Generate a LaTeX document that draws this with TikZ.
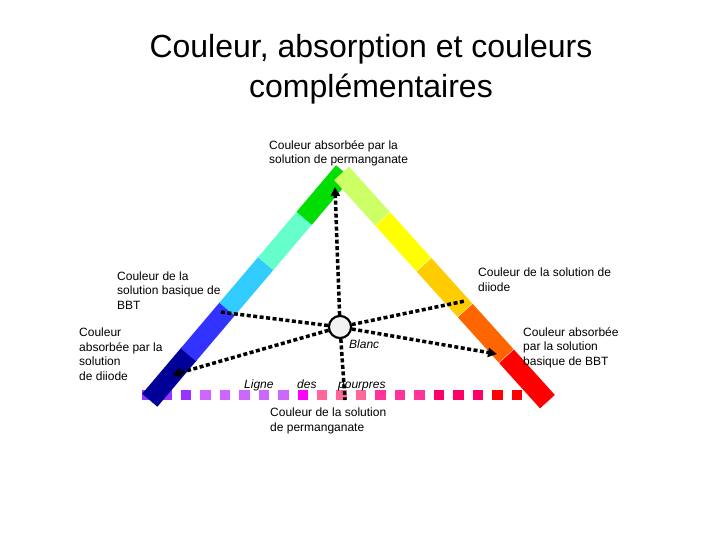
\documentclass[tikz,border=0pt]{standalone}
\usepackage{fontspec}
\setmainfont{Liberation Sans}
\usetikzlibrary{arrows.meta}
\definecolor{cNavy}{HTML}{000099}
\definecolor{cBlue}{HTML}{3333FF}
\definecolor{cSky}{HTML}{33CCFF}
\definecolor{cAqua}{HTML}{66FFCC}
\definecolor{cGreen}{HTML}{00DD00}
\definecolor{cLime}{HTML}{CCFF66}
\definecolor{cYellow}{HTML}{FFFF00}
\definecolor{cGold}{HTML}{FFCC00}
\definecolor{cOrange}{HTML}{FF6600}
\definecolor{cRed}{HTML}{FF0000}
\definecolor{qA}{HTML}{9933FF}
\definecolor{qB}{HTML}{CC66FF}
\definecolor{qC}{HTML}{FF00FF}
\definecolor{qD}{HTML}{FF6699}
\definecolor{qE}{HTML}{FF3399}
\definecolor{qF}{HTML}{FF0066}
\definecolor{qG}{HTML}{FF0000}
\definecolor{cWhite}{HTML}{F2F2F2}
\tikzset{
  bar/.style={rectangle, inner sep=0pt, minimum width=61pt, minimum height=20pt},
  sq/.style={rectangle, inner sep=0pt, minimum size=10.5pt},
  lbl/.style={anchor=base west, align=left, inner sep=0pt, font=\fontsize{12}{14.5}\selectfont},
  ilbl/.style={anchor=base west, inner sep=0pt, font=\fontsize{12}{14.5}\selectfont\itshape},
  ttl/.style={anchor=base, inner sep=0pt, font=\fontsize{32}{40}\selectfont},
  dots/.style={line width=3.5pt, dash pattern=on 4pt off 2.5pt, black},
  arr/.style={dots, -{Triangle[length=9pt,width=9pt]}},
  wpt/.style={circle, draw=black, line width=2pt, fill=cWhite, minimum size=22pt, inner sep=0pt}
}
\begin{document}
\begin{tikzpicture}[x=1pt,y=-1pt]
\useasboundingbox (0,0) rectangle (720,540);
% title
\node[ttl] (t1) at (371,58) {Couleur, absorption et couleurs};
\node[ttl] (t2) at (371,98) {complémentaires};
% line of purples
\foreach \c [count=\i from 0] in {qA,qA,qA,qB,qB,qB,qB,qB,qC,qD,qD,qD,qE,qE,qE,qF,qF,qF,qG,qG}
  \node[sq, fill=\c] (sq\i) at ({147+19.47*\i},395) {};
% left arm
\foreach \c [count=\i from 0] in {cNavy,cBlue,cSky,cAqua,cGreen}
  \node[bar, fill=\c, rotate=49.7] (L\i) at ({169.5+38.6*\i},{377-45.5*\i}) {};
% right arm
\foreach \c [count=\i from 0] in {cLime,cYellow,cGold,cOrange,cRed}
  \node[bar, fill=\c, rotate=-47.96] (R\i) at ({362+41.25*\i},{196+45.75*\i}) {};
% labels (anchored at the baseline of their last line)
\node[lbl] (la) at (269,164) {Couleur absorbée par la\\solution de permanganate};
\node[lbl] (lb) at (117,309) {Couleur de la\\solution basique de\\BBT};
\node[lbl] (lc) at (79,380) {Couleur\\absorbée par la\\solution\\de diiode};
\node[lbl] (ld) at (478,291) {Couleur de la solution de\\diiode};
\node[lbl] (le) at (523,365) {Couleur absorbée\\par la solution\\basique de BBT};
\node[lbl] (lf) at (270,431) {Couleur de la solution\\de permanganate};
\node[ilbl] (blabel) at (349,348) {Blanc};
\node[ilbl] (w1) at (244,388) {Ligne};
\node[ilbl] (w2) at (297,388) {des};
\node[ilbl] (w3) at (338,388) {pourpres};
% white point and connectors
\node[wpt] (W) at (340,327) {};
\coordinate (eUp) at (335,187);
\coordinate (eDown) at (345,400);
\coordinate (eUL) at (220,312);
\coordinate (eLL) at (172,375);
\coordinate (eUR) at (465,301);
\coordinate (eLR) at (497,354);
\draw[arr] (W) -- (eUp);
\draw[dots] (W) -- (eDown);
\draw[dots] (W) -- (eUL);
\draw[arr] (W) -- (eLL);
\draw[dots] (W) -- (eUR);
\draw[arr] (W) -- (eLR);
\node[wpt] (W2) at (W) {};
\end{tikzpicture}
\end{document}
